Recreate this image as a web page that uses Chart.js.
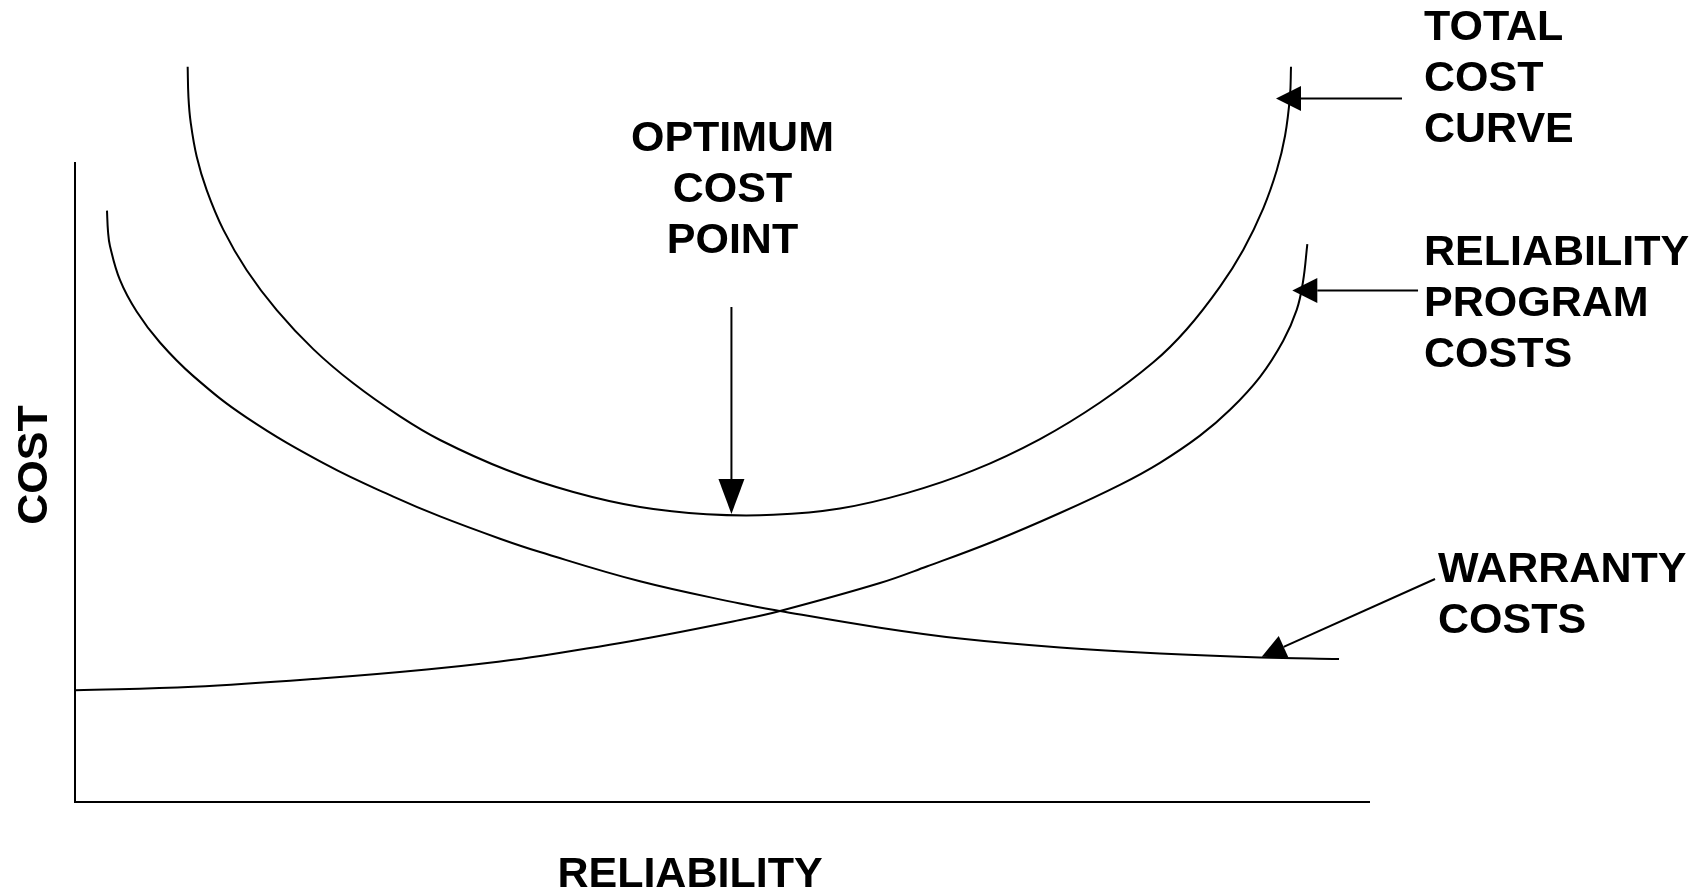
<!DOCTYPE html>
<html>
<head>
<meta charset="utf-8">
<script src="https://cdn.jsdelivr.net/npm/chart.js@4.4.0/dist/chart.umd.min.js"></script>
<style>
    html, body { margin: 0; padding: 0; background: #fff; }
    #wrap { width: 1693px; height: 892px; }
</style>
</head>
<body>
<div id="wrap"><canvas id="chart"></canvas></div>
<script>
// reliability (x) and cost (y), both in 0..100 units
const totalX = [8.70, 8.76, 8.93, 9.40, 10.17, 11.45, 13.26, 15.58, 18.40, 21.49, 25.10, 28.19, 33.34, 38.48, 43.63, 48.78,
    53.92, 59.07, 64.22, 69.37, 74.52, 79.15, 83.27, 85.85, 88.42, 90.22, 91.76, 92.80, 93.44, 93.82, 93.90];
const totalY = [99.36, 95.26, 91.88, 87.20, 82.69, 77.35, 71.86, 66.47, 61.20, 56.58, 52.11, 48.92, 44.86, 41.89, 39.86, 38.89,
    38.81, 39.66, 41.74, 44.81, 49.05, 53.99, 59.42, 63.89, 69.65, 74.64, 80.23, 85.36, 90.03, 95.38, 99.36];

const warrantyX = [2.47, 2.55, 2.70, 3.47, 4.76, 6.56, 9.14, 13.26, 19.44, 24.58, 28.19, 32.82, 35.91, 43.63, 51.35, 54.44,
    62.16, 68.34, 76.06, 83.78, 91.51, 97.61];
const warrantyY = [79.91, 77.09, 75.15, 70.55, 66.28, 62.09, 57.55, 51.95, 45.55, 41.27, 38.59, 35.58, 33.78, 29.82, 26.82, 25.81,
    23.55, 22.09, 20.88, 20.07, 19.54, 19.32];

const programX = [0, 9.14, 19.44, 27.16, 32.82, 35.91, 43.63, 51.35, 54.44, 62.16, 65.77, 70.91, 76.06, 80.69, 83.78,
    86.87, 89.19, 91.51, 93.30, 94.34, 94.83, 95.16];
const programY = [15.11, 15.58, 16.76, 17.91, 19.00, 19.73, 21.96, 24.59, 25.81, 29.59, 31.82, 35.20, 39.05, 42.86, 45.84,
    49.51, 53.00, 57.46, 62.34, 66.50, 70.34, 75.39];

const xAxisEnd = 100;
const yAxisTop = 86.5;

const font = 'bold 43px "Liberation Sans", Arial, sans-serif';
const lineGap = 51;

// labels and arrows, placed in the same units as the data
const labels = [
    { lines: ['OPTIMUM', 'COST', 'POINT'], x: 50.77, y: 88.03, align: 'center' },
    { lines: ['TOTAL', 'COST', 'CURVE'], x: 104.17, y: 102.91, align: 'left' },
    { lines: ['RELIABILITY', 'PROGRAM', 'COSTS'], x: 104.17, y: 72.57, align: 'left' },
    { lines: ['WARRANTY', 'COSTS'], x: 105.25, y: 29.73, align: 'left' },
    { lines: ['RELIABILITY'], x: 47.49, y: -11.49, align: 'center' }
];
const arrows = [
    { from: [50.69, 66.89], to: [50.69, 38.92], len: 35, width: 26 },
    { from: [102.47, 95.07], to: [92.74, 95.07], len: 25, width: 25 },
    { from: [103.71, 69.12], to: [94.0, 69.12], len: 25, width: 25 },
    { from: [105.02, 30.14], to: [91.64, 19.64], len: 24, width: 24 }
];

const toPoints = (xs, ys) => xs.map((x, i) => ({ x: x, y: ys[i] }));

const drawArrow = function (ctx, x1, y1, x2, y2, len, width) {
    const a = Math.atan2(y2 - y1, x2 - x1);
    const bx = x2 - len * Math.cos(a);
    const by = y2 - len * Math.sin(a);
    ctx.beginPath();
    ctx.moveTo(x1, y1);
    ctx.lineTo(bx, by);
    ctx.stroke();
    ctx.beginPath();
    ctx.moveTo(x2, y2);
    ctx.lineTo(bx + width / 2 * Math.sin(a), by - width / 2 * Math.cos(a));
    ctx.lineTo(bx - width / 2 * Math.sin(a), by + width / 2 * Math.cos(a));
    ctx.closePath();
    ctx.fill();
};

const sketchPlugin = {
    id: 'sketch',
    afterDatasetsDraw(chart) {
        const ctx = chart.ctx;
        const xs = chart.scales.x;
        const ys = chart.scales.y;
        ctx.save();
        ctx.strokeStyle = '#000';
        ctx.fillStyle = '#000';
        ctx.lineWidth = 2;

        // axes
        ctx.beginPath();
        ctx.moveTo(xs.getPixelForValue(0), ys.getPixelForValue(yAxisTop));
        ctx.lineTo(xs.getPixelForValue(0), ys.getPixelForValue(0));
        ctx.lineTo(xs.getPixelForValue(xAxisEnd), ys.getPixelForValue(0));
        ctx.stroke();

        arrows.forEach(ar => {
            drawArrow(ctx,
                xs.getPixelForValue(ar.from[0]), ys.getPixelForValue(ar.from[1]),
                xs.getPixelForValue(ar.to[0]), ys.getPixelForValue(ar.to[1]),
                ar.len, ar.width);
        });

        ctx.font = font;
        ctx.textBaseline = 'alphabetic';
        labels.forEach(lb => {
            ctx.textAlign = lb.align;
            const px = xs.getPixelForValue(lb.x);
            const py = ys.getPixelForValue(lb.y);
            lb.lines.forEach((t, i) => ctx.fillText(t, px, py + i * lineGap));
        });

        // vertical axis title
        ctx.translate(xs.getPixelForValue(-3.32) + 15, ys.getPixelForValue(45.54));
        ctx.rotate(-Math.PI / 2);
        ctx.textAlign = 'center';
        ctx.fillText('COST', 0, 0);
        ctx.restore();
    }
};

const lineStyle = {
    borderColor: '#000',
    borderWidth: 2,
    pointRadius: 0,
    fill: false,
    tension: 0.4,
    clip: false
};

new Chart(document.getElementById('chart'), {
    type: 'line',
    data: {
        datasets: [
            Object.assign({ label: 'Total cost curve', data: toPoints(totalX, totalY) }, lineStyle),
            Object.assign({ label: 'Warranty costs', data: toPoints(warrantyX, warrantyY) }, lineStyle),
            Object.assign({ label: 'Reliability program costs', data: toPoints(programX, programY) }, lineStyle)
        ]
    },
    options: {
        responsive: true,
        maintainAspectRatio: false,
        animation: false,
        layout: { padding: { left: 75, right: 323, top: 62, bottom: 90 } },
        scales: {
            x: { type: 'linear', min: 0, max: 100, display: false },
            y: { type: 'linear', min: 0, max: 100, display: false }
        },
        plugins: {
            legend: { display: false },
            tooltip: { enabled: false }
        }
    },
    plugins: [sketchPlugin]
});
</script>
</body>
</html>
